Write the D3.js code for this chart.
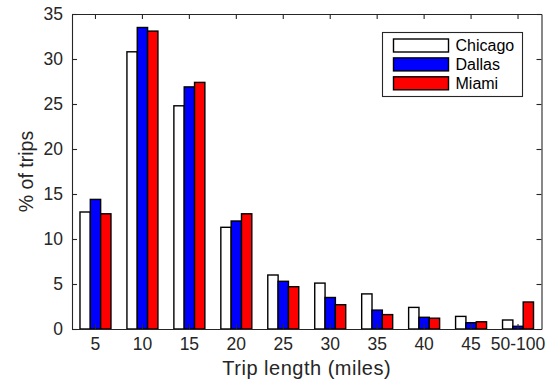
<!DOCTYPE html>
<html>
<head>
<meta charset="utf-8">
<script src="https://cdn.jsdelivr.net/npm/d3@7"></script>
<style>
  html, body { margin: 0; padding: 0; background: #fff; }
  svg { display: block; font-family: "Liberation Sans", Arial, Helvetica, sans-serif; }
</style>
</head>
<body>
<svg id="chart" width="553" height="384"></svg>
<script>
// Share of trips by trip length, per city
const categories = ["5", "10", "15", "20", "25", "30", "35", "40", "45", "50-100"];
const cities = ["Chicago", "Dallas", "Miami"];
const chicago = [13.0, 30.8, 24.8, 11.3, 6.0, 5.1, 3.9, 2.4, 1.4, 1.0];
const dallas  = [14.4, 33.5, 26.9, 12.0, 5.3, 3.5, 2.1, 1.3, 0.7, 0.3];
const miami   = [12.8, 33.1, 27.4, 12.8, 4.7, 2.7, 1.6, 1.2, 0.8, 3.0];
const yTicks = [0, 5, 10, 15, 20, 25, 30, 35];

const seriesValues = [chicago, dallas, miami];
const colors = { Chicago: "#ffffff", Dallas: "#0000ff", Miami: "#ff0000" };

const margin = { left: 72, top: 14, right: 553 - 541.5, bottom: 384 - 329 };
const W = 553, H = 384;
const plotW = W - margin.left - margin.right;
const plotH = H - margin.top - margin.bottom;
const axisColor = "#262626";

const svg = d3.select("#chart");
const g = svg.append("g").attr("transform", `translate(${margin.left},${margin.top})`);

const x = d3.scaleBand().domain(categories).range([0, plotW])
  .paddingInner(0.34).paddingOuter(0.17);
const xs = d3.scaleBand().domain(cities).range([0, x.bandwidth()]);
const y = d3.scaleLinear().domain([0, 35]).range([plotH, 0]);

// bars
const rows = categories.map((c, i) => ({ cat: c, vals: cities.map((city, j) => ({ city, v: seriesValues[j][i] })) }));
const grp = g.selectAll("g.grp").data(rows).join("g")
  .attr("class", "grp")
  .attr("transform", d => `translate(${x(d.cat)},0)`);
grp.selectAll("rect").data(d => d.vals).join("rect")
  .attr("x", d => xs(d.city))
  .attr("width", xs.bandwidth())
  .attr("y", d => y(d.v))
  .attr("height", d => y(0) - y(d.v))
  .attr("fill", d => colors[d.city])
  .attr("stroke", "#000")
  .attr("stroke-width", 1.4);

// axes (ticks point inward, box on all four sides)
function styleAxis(sel) {
  sel.select(".domain").attr("stroke", axisColor).attr("stroke-width", 1.1);
  sel.selectAll(".tick line").attr("stroke", axisColor).attr("stroke-width", 1.1);
  sel.selectAll(".tick text").attr("fill", axisColor).style("font-size", "17.5px");
}
g.append("g").attr("transform", `translate(0,${plotH})`)
  .call(d3.axisBottom(x).tickSizeInner(-5).tickSizeOuter(0).tickPadding(9))
  .call(styleAxis);
g.append("g")
  .call(d3.axisTop(x).tickSizeInner(-5).tickSizeOuter(0).tickFormat(""))
  .call(styleAxis);
g.append("g")
  .call(d3.axisLeft(y).tickValues(yTicks).tickSizeInner(-5).tickSizeOuter(0).tickPadding(9))
  .call(styleAxis);
g.append("g").attr("transform", `translate(${plotW},0)`)
  .call(d3.axisRight(y).tickValues(yTicks).tickSizeInner(-5).tickSizeOuter(0).tickFormat(""))
  .call(styleAxis);

// axis titles
svg.append("text")
  .attr("x", margin.left + plotW / 2).attr("y", 374.5)
  .attr("text-anchor", "middle").attr("fill", axisColor)
  .style("font-size", "20px").style("letter-spacing", "0.5px")
  .text("Trip length (miles)");
svg.append("text")
  .attr("transform", `translate(33,${margin.top + plotH / 2}) rotate(-90)`)
  .attr("text-anchor", "middle").attr("fill", axisColor)
  .style("font-size", "19.5px")
  .text("% of trips");

// legend
const leg = svg.append("g").attr("transform", "translate(382.5,32.5)");
leg.append("rect").attr("width", 140).attr("height", 64)
  .attr("fill", "#fff").attr("stroke", axisColor).attr("stroke-width", 1.1);
const li = leg.selectAll("g.item").data(cities).join("g")
  .attr("class", "item")
  .attr("transform", (d, i) => `translate(11,${6.5 + i * 18.9})`);
li.append("rect").attr("width", 55).attr("height", 13)
  .attr("fill", d => colors[d]).attr("stroke", "#000").attr("stroke-width", 1.4);
li.append("text").attr("x", 62).attr("y", 12)
  .attr("fill", "#000").style("font-size", "16px")
  .text(d => d);
</script>
</body>
</html>
